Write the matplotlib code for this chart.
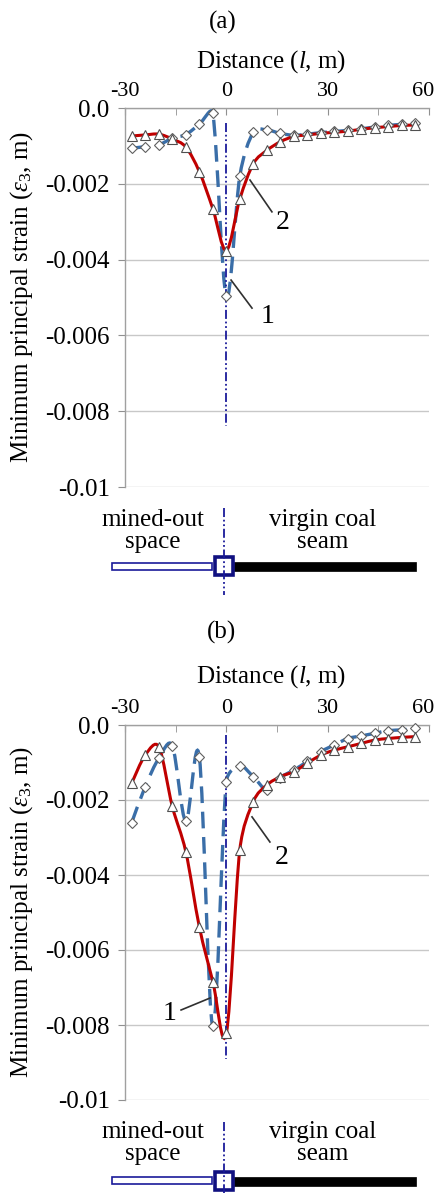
import numpy as np
import matplotlib
matplotlib.use("Agg")
import matplotlib.pyplot as plt
from matplotlib.path import Path
from matplotlib.patches import PathPatch, Rectangle
from matplotlib.transforms import ScaledTranslation

plt.rcParams['font.family'] = ['Liberation Serif', 'DejaVu Serif']
plt.rcParams['mathtext.fontset'] = 'custom'
plt.rcParams['mathtext.rm'] = 'Liberation Serif'
plt.rcParams['mathtext.it'] = 'Liberation Serif:italic'
plt.rcParams['axes.unicode_minus'] = False

# distance along the seam (m)
dist = [-28, -24, -20, -16, -12, -8, -4, 0, 4, 8, 12, 16, 20, 24, 28, 32, 36, 40, 44, 48, 52, 56]

# panel (a)
a_curve1 = [-0.00106, -0.00102, -0.00097, -0.00080, -0.00070, -0.00043, -0.00014, -0.00497,
            -0.00179, -0.00064, -0.00058, -0.00067, -0.00072, -0.00069, -0.00065, -0.00062,
            -0.00059, -0.00055, -0.00050, -0.00046, -0.00043, -0.00040]
a_curve2 = [-0.00074, -0.00071, -0.00069, -0.00082, -0.00103, -0.00168, -0.00266, -0.00376,
            -0.00240, -0.00147, -0.00112, -0.00089, -0.00075, -0.00071, -0.00067, -0.00064,
            -0.00061, -0.00056, -0.00052, -0.00049, -0.00046, -0.00045]

# panel (b)
b_curve1 = [-0.00260, -0.00164, -0.00089, -0.00055, -0.00256, -0.00085, -0.00803, -0.00151,
            -0.00109, -0.00138, -0.00172, -0.00140, -0.00120, -0.00097, -0.00071, -0.00053,
            -0.00036, -0.00029, -0.00022, -0.00015, -0.00013, -0.00009]
b_curve2 = [-0.00155, -0.00080, -0.00058, -0.00217, -0.00338, -0.00538, -0.00684, -0.00822,
            -0.00332, -0.00204, -0.00160, -0.00138, -0.00124, -0.00102, -0.00080, -0.00067,
            -0.00058, -0.00049, -0.00040, -0.00036, -0.00033, -0.00031]

x_ticks = [-30, 0, 30, 60]
y_ticks = [0.0, -0.002, -0.004, -0.006, -0.008, -0.01]
y_ticklabels = ['0.0', '-0.002', '-0.004', '-0.006', '-0.008', '-0.01']

RED = '#c00000'
BLUE = '#3a6ea8'
NAVY = '#1a1a9a'
GRID = '#c8c8c8'
W, H = 436, 1193
SX, SY = 3.378, 37700.0   # px per unit, used for smoothing distances


def fax(l, t, r, b):
    return fig.add_axes([l / W, 1 - b / H, (r - l) / W, (b - t) / H])


def smooth_path(x, y):
    # Excel-like smoothed line (bezier segments)
    p = np.column_stack([np.array(x, float), np.array(y, float)])
    s = np.array([SX, SY])
    n = len(p)
    verts = [p[0]]
    codes = [Path.MOVETO]
    for i in range(n - 1):
        p0, p1, p2, p3 = p[max(i - 1, 0)], p[i], p[i + 1], p[min(i + 2, n - 1)]
        d12 = np.hypot(*((p2 - p1) * s))
        d02 = np.hypot(*((p2 - p0) * s))
        d13 = np.hypot(*((p3 - p1) * s))
        f0 = min(1 / 6, 0.5 * d12 / d02) if d02 > 0 else 0
        f1 = min(1 / 6, 0.5 * d12 / d13) if d13 > 0 else 0
        verts += [p1 + (p2 - p0) * f0, p2 - (p3 - p1) * f1, p2]
        codes += [Path.CURVE4] * 3
    return Path(verts, codes)


def panel(ax, c1, c2, vline):
    ax.add_patch(PathPatch(smooth_path(dist, c1), fill=False, ec=BLUE, lw=2.4,
                           ls=(0, (5, 2.6)), zorder=3))
    ax.add_patch(PathPatch(smooth_path(dist, c2), fill=False, ec=RED, lw=2.2, zorder=4))
    ax.plot(dist, c1, ls='none', marker='D', ms=5, mfc='white', mec='#606060', mew=0.8,
            zorder=5, clip_on=False)
    ax.plot(dist, c2, ls='none', marker='^', ms=7, mfc='white', mec='#505050', mew=0.8,
            zorder=6, clip_on=False)
    ax.plot([0, 0], vline, color=NAVY, lw=1.3, ls=(0, (5, 1.5, 1, 1.5, 1, 1.5)), zorder=4)
    ax.set_xlim(-30, 60)
    ax.set_ylim(-0.01, 0.0)
    ax.xaxis.tick_top()
    ax.set_xticks(x_ticks)
    ax.set_xticks([-15, 15, 45], minor=True)
    ax.set_yticks(y_ticks)
    ax.set_yticklabels(y_ticklabels)
    ax.tick_params(axis='x', which='both', direction='in', length=5, color='#909090',
                   labelsize=16, pad=5)
    ax.tick_params(axis='y', direction='out', length=5, color='#909090', labelsize=18, pad=6)
    ax.grid(axis='y', color=GRID, lw=1.0)
    for sp in ['right', 'bottom']:
        ax.spines[sp].set_visible(False)
    for sp in ['left', 'top']:
        ax.spines[sp].set_color('#a0a0a0')
        ax.spines[sp].set_linewidth(1.0)
    # keep the last label inside the figure
    lab = ax.get_xticklabels()[-1]
    lab.set_transform(lab.get_transform() + ScaledTranslation(-6 / 100, 0, fig.dpi_scale_trans))


def leader(ax, txt, xy_from, xy_to, xy_text):
    ax.plot([xy_from[0], xy_to[0]], [xy_from[1], xy_to[1]], color='#303030', lw=1.2, zorder=7)
    ax.text(xy_text[0], xy_text[1], txt, fontsize=20, ha='center', va='center', zorder=7)


def schematic(top, bottom, rect_y, sq_y, bar_y, text_y):
    sa = fax(125, top, 429, bottom)
    sa.set_xlim(-30, 60)
    sa.set_ylim(bottom, top)
    sa.axis('off')
    sa.add_patch(Rectangle((-33.8, rect_y[0]), 29.6, rect_y[1] - rect_y[0], fc='white',
                           ec=NAVY, lw=1.2, clip_on=False))
    sa.add_patch(Rectangle((2.3, bar_y[0]), 53.9, bar_y[1] - bar_y[0], fc='black',
                           ec='black', lw=0.5, clip_on=False))
    sa.add_patch(Rectangle((-3.3, sq_y[0]), 5.4, sq_y[1] - sq_y[0], fc='white',
                           ec='#101080', lw=2.6, clip_on=False, zorder=3))
    sa.plot([-0.6, -0.6], [top + 8, bottom + 5], color=NAVY, lw=1.3,
            ls=(0, (5, 1.5, 1, 1.5, 1, 1.5)), clip_on=False, zorder=4)
    sa.text(-21.7, text_y, 'mined-out\nspace', fontsize=18, ha='center', va='center',
            linespacing=1.05)
    sa.text(28.5, text_y, 'virgin coal\nseam', fontsize=18, ha='center', va='center',
            linespacing=1.05)


fig = plt.figure(figsize=(W / 100, H / 100), dpi=100)

# ---- (a)
ax1 = fax(125, 108, 429, 487)
panel(ax1, a_curve1, a_curve2, [-0.0004, -0.0084])
leader(ax1, '2', (7.0, -0.0019), (13.5, -0.00274), (16.8, -0.00303))
leader(ax1, '1', (1.4, -0.00454), (7.6, -0.00528), (12.3, -0.00551))
fig.text(223 / W, 1 - 22 / H, '(a)', fontsize=18, ha='center', va='center')
fig.text(271 / W, 1 - 62 / H, 'Distance ($l$, m)', fontsize=18, ha='center', va='center')
fig.text(22 / W, 1 - 297 / H, r'Minimum principal strain ($\varepsilon_3$, m)', fontsize=18,
         ha='center', va='center', rotation=90)
schematic(500, 590, (563, 569.5), (557, 575), (561.5, 571), 531)

# ---- (b)
ax2 = fax(125, 725, 429, 1100)
panel(ax2, b_curve1, b_curve2, [-0.00027, -0.0089])
leader(ax2, '2', (7.6, -0.00245), (12.9, -0.00312), (16.5, -0.00352))
leader(ax2, '1', (-13.4, -0.0076), (-4.8, -0.00728), (-16.7, -0.00768))
fig.text(222 / W, 1 - 632 / H, '(b)', fontsize=18, ha='center', va='center')
fig.text(271 / W, 1 - 677 / H, 'Distance ($l$, m)', fontsize=18, ha='center', va='center')
fig.text(22 / W, 1 - 912 / H, r'Minimum principal strain ($\varepsilon_3$, m)', fontsize=18,
         ha='center', va='center', rotation=90)
schematic(1114, 1193, (1177, 1184), (1172, 1190), (1177, 1185.5), 1143)

fig.savefig('out.png', dpi=100)
plt.close(fig)
